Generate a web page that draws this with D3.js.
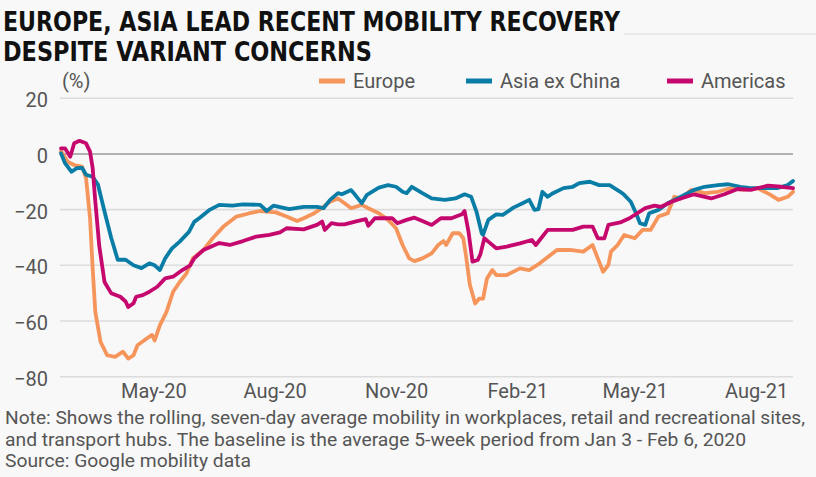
<!DOCTYPE html>
<html>
<head>
<meta charset="utf-8">
<script src="https://cdn.jsdelivr.net/npm/d3@7"></script>
<style>
  html, body { margin: 0; padding: 0; background: #f8f8f8; }
  svg { display: block; }
  text { font-family: Roboto, "Liberation Sans", sans-serif; }
</style>
</head>
<body>
<svg id="chart" width="816" height="477"></svg>
<script>
// ---------- DATA ----------
const titleLines = ["EUROPE, ASIA LEAD RECENT MOBILITY RECOVERY", "DESPITE VARIANT CONCERNS"];
const unitLabel = "(%)";
const seriesNames = ["Europe", "Asia ex China", "Americas"];
const seriesColors = ["#f5955c", "#0a7da6", "#c5086d"];
const yTickValues = [20, 0, -20, -40, -60, -80];
const xTickDates = ["2020-05-01", "2020-08-01", "2020-11-01", "2021-02-01", "2021-05-01", "2021-08-01"];
const xTickLabels = ["May-20", "Aug-20", "Nov-20", "Feb-21", "May-21", "Aug-21"];
const noteLines = [
  "Note: Shows the rolling, seven-day average mobility in workplaces, retail and recreational sites,",
  "and transport hubs. The baseline is the average 5-week period from Jan 3 - Feb 6, 2020",
  "Source: Google mobility data"
];

const europeDates = ["2020-02-21","2020-02-26","2020-03-02","2020-03-08","2020-03-11","2020-03-14","2020-03-16","2020-03-18","2020-03-22","2020-03-27","2020-04-02","2020-04-08","2020-04-12","2020-04-16","2020-04-19","2020-04-26","2020-04-30","2020-05-02","2020-05-06","2020-05-11","2020-05-16","2020-05-21","2020-05-26","2020-05-31","2020-06-08","2020-06-15","2020-06-23","2020-07-03","2020-07-13","2020-07-21","2020-08-02","2020-08-10","2020-08-18","2020-08-23","2020-08-31","2020-09-07","2020-09-12","2020-09-18","2020-09-23","2020-09-28","2020-10-06","2020-10-11","2020-10-19","2020-10-26","2020-11-01","2020-11-06","2020-11-11","2020-11-15","2020-11-21","2020-11-28","2020-12-03","2020-12-07","2020-12-09","2020-12-14","2020-12-19","2020-12-22","2020-12-24","2020-12-27","2020-12-31","2021-01-03","2021-01-06","2021-01-09","2021-01-13","2021-01-16","2021-01-24","2021-02-03","2021-02-10","2021-02-18","2021-03-03","2021-03-13","2021-03-23","2021-03-30","2021-04-03","2021-04-07","2021-04-11","2021-04-13","2021-04-18","2021-04-23","2021-05-01","2021-05-07","2021-05-13","2021-05-19","2021-05-26","2021-05-31","2021-06-05","2021-06-13","2021-06-23","2021-07-03","2021-07-13","2021-07-23","2021-08-02","2021-08-12","2021-08-18","2021-08-25","2021-08-29"];
const europeValues = [1.0,-2.8,-4.0,-4.6,-8.7,-23,-41,-56.7,-67.5,-72.3,-72.9,-71,-73.5,-72.3,-68.7,-66.3,-65,-67,-61.5,-56.7,-49.5,-46,-43,-37.5,-34.5,-30.3,-26.2,-22.5,-21.3,-20.5,-21,-22.5,-24.1,-23.1,-21.3,-19,-17.2,-16,-17.7,-19.5,-18.3,-19.5,-21.3,-23.7,-26.7,-32.7,-37.5,-38.5,-37.5,-35.7,-32.7,-31.3,-32.7,-28.5,-28.5,-30.3,-36.3,-47,-53.7,-52,-52,-44.7,-41.7,-43.5,-43.5,-41.1,-41.7,-39.3,-34.5,-34.5,-35.1,-32.7,-37.5,-42.3,-39.9,-35.1,-32.7,-29.1,-30.3,-27.3,-27.3,-22.5,-21.3,-15.4,-16,-12.9,-14.1,-13.6,-12.3,-12.9,-12.3,-14.7,-16.5,-15.4,-13.6];

const asiaDates = ["2020-02-21","2020-02-24","2020-02-29","2020-03-04","2020-03-08","2020-03-11","2020-03-16","2020-03-20","2020-03-25","2020-03-30","2020-04-04","2020-04-10","2020-04-16","2020-04-22","2020-04-28","2020-05-02","2020-05-06","2020-05-10","2020-05-15","2020-05-21","2020-05-28","2020-06-01","2020-06-05","2020-06-13","2020-06-20","2020-06-30","2020-07-08","2020-07-21","2020-07-26","2020-07-31","2020-08-12","2020-08-23","2020-09-02","2020-09-07","2020-09-12","2020-09-18","2020-09-21","2020-09-28","2020-10-01","2020-10-06","2020-10-10","2020-10-19","2020-10-26","2020-11-01","2020-11-06","2020-11-09","2020-11-13","2020-11-21","2020-11-28","2020-12-08","2020-12-16","2020-12-23","2020-12-28","2021-01-01","2021-01-05","2021-01-06","2021-01-10","2021-01-16","2021-01-21","2021-01-29","2021-02-05","2021-02-10","2021-02-14","2021-02-17","2021-02-20","2021-02-24","2021-02-28","2021-03-08","2021-03-15","2021-03-20","2021-03-28","2021-04-04","2021-04-12","2021-04-20","2021-04-23","2021-04-28","2021-05-02","2021-05-05","2021-05-09","2021-05-12","2021-05-19","2021-05-26","2021-06-05","2021-06-15","2021-06-23","2021-07-03","2021-07-11","2021-07-20","2021-07-28","2021-08-07","2021-08-17","2021-08-25","2021-08-29"];
const asiaValues = [0.2,-3.3,-6.4,-5.1,-5,-7.5,-8.2,-11,-20.7,-30,-38,-38,-40,-41,-39.3,-40,-41.7,-37.5,-34,-31.5,-28,-24.4,-23,-20,-18.3,-18.6,-18.1,-18.3,-20.5,-18.6,-19.8,-19,-19,-19.5,-16.5,-14.1,-14.5,-13,-14.7,-17.7,-14.7,-12.1,-11.2,-11.8,-13.6,-14.1,-11.8,-14.1,-16,-16.5,-16,-14.5,-15.4,-20.7,-28.5,-29.1,-23.7,-21.7,-21.9,-19.3,-17.7,-16.5,-20.1,-19.8,-13.6,-15.4,-14.1,-12.3,-11.8,-10.5,-10,-11.2,-11.2,-13.6,-14.7,-17.2,-21.3,-24.9,-25.5,-21.3,-20.1,-17.7,-15.4,-12.9,-11.8,-11.2,-10.9,-11.8,-12.3,-12.3,-12.3,-11.2,-9.7];

const americasDates = ["2020-02-21","2020-02-24","2020-02-28","2020-03-02","2020-03-06","2020-03-11","2020-03-14","2020-03-16","2020-03-18","2020-03-21","2020-03-25","2020-03-30","2020-04-06","2020-04-10","2020-04-12","2020-04-16","2020-04-18","2020-04-23","2020-04-28","2020-05-04","2020-05-10","2020-05-16","2020-05-23","2020-05-29","2020-06-01","2020-06-08","2020-06-20","2020-06-28","2020-07-08","2020-07-18","2020-07-28","2020-08-05","2020-08-10","2020-08-23","2020-09-02","2020-09-06","2020-09-08","2020-09-13","2020-09-18","2020-09-23","2020-10-01","2020-10-09","2020-10-11","2020-10-16","2020-10-29","2020-11-02","2020-11-09","2020-11-15","2020-11-21","2020-11-28","2020-12-05","2020-12-13","2020-12-21","2020-12-23","2020-12-26","2020-12-29","2021-01-02","2021-01-04","2021-01-07","2021-01-10","2021-01-16","2021-01-24","2021-02-03","2021-02-12","2021-02-15","2021-02-19","2021-02-24","2021-03-05","2021-03-15","2021-03-23","2021-03-30","2021-04-03","2021-04-08","2021-04-11","2021-04-20","2021-04-27","2021-05-09","2021-05-16","2021-05-21","2021-05-29","2021-06-05","2021-06-15","2021-06-28","2021-07-08","2021-07-18","2021-07-28","2021-08-10","2021-08-20","2021-08-29"];
const americasValues = [2,2,-1,3.8,4.7,3.8,0.8,-5,-17,-33,-46,-50,-51.3,-53,-55,-53.6,-51.3,-50.7,-49.5,-47.7,-44.7,-44.1,-41.7,-40,-37.5,-34.5,-32,-32.7,-31.3,-29.7,-29.1,-28.2,-26.7,-27.1,-25.5,-24.3,-27.3,-24.9,-25.3,-25.3,-24.3,-23.4,-25.8,-23.1,-23.1,-24.9,-23.7,-22.9,-24.1,-25.5,-23.1,-23.1,-21.7,-20.5,-28,-38.7,-38.1,-36,-30.3,-31.5,-33.9,-33.3,-32.1,-30.9,-32.7,-30.3,-27.3,-27.3,-27.3,-26.1,-26.1,-30.3,-30.3,-25.5,-24.6,-23.1,-19.5,-18.6,-19,-17.2,-16,-14.5,-16,-14.5,-12.6,-12.9,-11.4,-11.8,-12.3];

// ---------- CHART ----------
const parse = d3.timeParse("%Y-%m-%d");
const svg = d3.select("#chart");
const W = 816, H = 477;
svg.append("rect").attr("width", W).attr("height", H).attr("fill", "#f8f8f8");

const plotLeft = 60, plotRight = 793;
const x = d3.scaleTime()
  .domain([parse("2020-02-21"), parse("2021-08-29")])
  .range([61, 793]);
const y = d3.scaleLinear().domain([-80, 20]).range([376.7, 98.2]);

// Title
const titleFont = "'Liberation Sans Narrow','DejaVu Sans Condensed','Roboto Condensed',sans-serif";
const titleLens = [617, 369];
const titleY = [30.5, 61];
svg.append("g").selectAll("text").data(titleLines).join("text")
  .attr("x", 3).attr("y", (d, i) => titleY[i])
  .attr("textLength", (d, i) => titleLens[i]).attr("lengthAdjust", "spacingAndGlyphs")
  .style("font-family", titleFont)
  .style("font-weight", "700").style("font-size", "26px").attr("fill", "#111")
  .text(d => d);
svg.append("line").attr("x1", 624).attr("x2", W).attr("y1", 34).attr("y2", 34)
  .attr("stroke", "#e4e4e4").attr("stroke-width", 1.5);

// Gridlines
svg.append("g").selectAll("line").data(yTickValues).join("line")
  .attr("x1", plotLeft).attr("x2", plotRight)
  .attr("y1", d => y(d)).attr("y2", d => y(d))
  .attr("stroke", d => d === 0 ? "#9a9a9a" : "#dcdcdc")
  .attr("stroke-width", d => d === 0 ? 1.5 : 1.6);

// Y axis labels
const yAxis = d3.axisLeft(y).tickValues(yTickValues).tickSize(0).tickPadding(0);
const gy = svg.append("g").attr("transform", "translate(48,2)").call(yAxis);
gy.select(".domain").remove();
gy.selectAll("text").style("font-size", "20px").style("font-family", "Roboto, sans-serif").attr("fill", "#555");

// X axis labels
const xAxis = d3.axisBottom(x).tickValues(xTickDates.map(parse))
  .tickFormat((d, i) => xTickLabels[i]).tickSize(0).tickPadding(0);
const gx = svg.append("g").attr("transform", "translate(0,384)").call(xAxis);
gx.select(".domain").remove();
gx.selectAll("text").style("font-size", "20px").style("font-family", "Roboto, sans-serif").attr("fill", "#555");

// Lines
const seriesData = [
  europeDates.map((d, i) => ({date: parse(d), value: europeValues[i]})),
  asiaDates.map((d, i) => ({date: parse(d), value: asiaValues[i]})),
  americasDates.map((d, i) => ({date: parse(d), value: americasValues[i]}))
];
const line = d3.line().x(d => x(d.date)).y(d => y(d.value)).curve(d3.curveLinear);
svg.append("g").selectAll("path").data(seriesData).join("path")
  .attr("d", line)
  .attr("fill", "none")
  .attr("stroke", (d, i) => seriesColors[i])
  .attr("stroke-width", 3.8)
  .attr("stroke-linejoin", "round")
  .attr("stroke-linecap", "round");

// Unit label
svg.append("text").attr("x", 62).attr("y", 88).attr("fill", "#555")
  .style("font-size", "20px").text(unitLabel);

// Legend
const legendX = [319, 466, 667];
const legend = svg.append("g").selectAll("g").data(seriesNames).join("g")
  .attr("transform", (d, i) => `translate(${legendX[i]},81)`);
legend.append("line").attr("x1", 0).attr("x2", 26).attr("y1", 0).attr("y2", 0)
  .attr("stroke", (d, i) => seriesColors[i]).attr("stroke-width", 5);
legend.append("text").attr("x", 34).attr("y", 7).attr("fill", "#555")
  .style("font-size", "20px").text(d => d);

// Notes
const noteLens = [800, 741, 246];
svg.append("g").selectAll("text").data(noteLines).join("text")
  .attr("x", 5).attr("y", (d, i) => 424 + i * 21.5)
  .attr("textLength", (d, i) => noteLens[i]).attr("lengthAdjust", "spacingAndGlyphs")
  .attr("fill", "#555").style("font-size", "19px")
  .text(d => d);
</script>
</body>
</html>
